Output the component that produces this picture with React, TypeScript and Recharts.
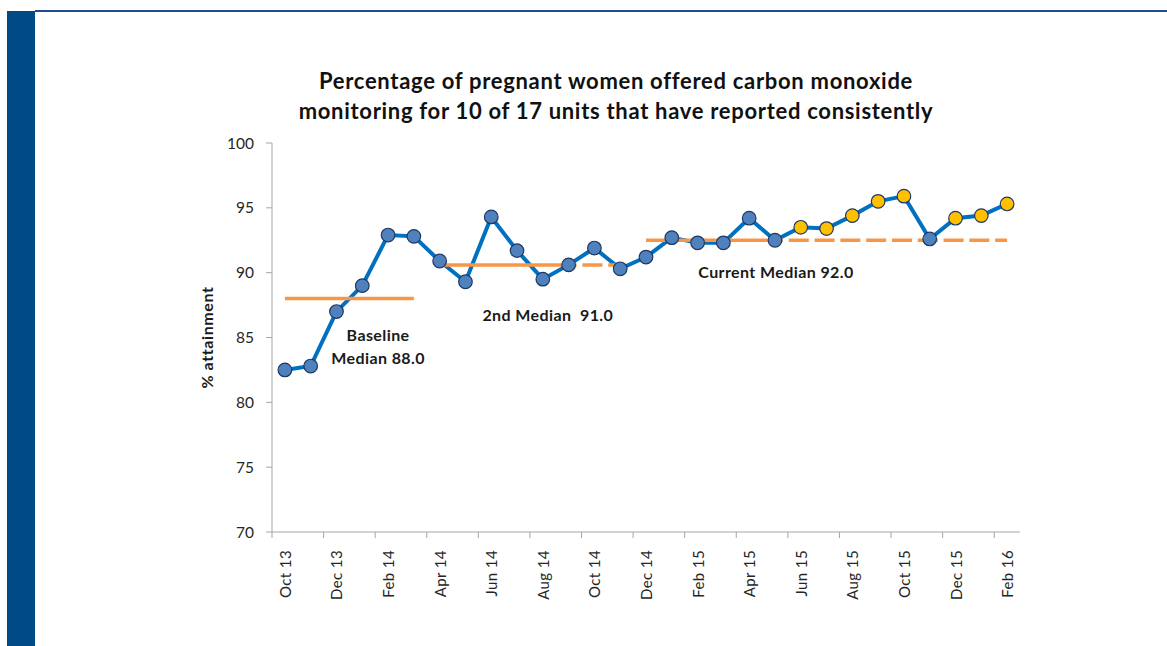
import { LineChart, Line, XAxis, YAxis, ReferenceDot } from "recharts";

const months = [
  "Oct 13", "Nov 13", "Dec 13", "Jan 14", "Feb 14", "Mar 14", "Apr 14", "May 14",
  "Jun 14", "Jul 14", "Aug 14", "Sep 14", "Oct 14", "Nov 14", "Dec 14", "Jan 15",
  "Feb 15", "Mar 15", "Apr 15", "May 15", "Jun 15", "Jul 15", "Aug 15", "Sep 15",
  "Oct 15", "Nov 15", "Dec 15", "Jan 16", "Feb 16",
];

const attainment = [
  82.5, 82.8, 87.0, 89.0, 92.9, 92.8, 90.9, 89.3,
  94.3, 91.7, 89.5, 90.6, 91.9, 90.3, 91.2, 92.7,
  92.3, 92.3, 94.2, 92.5, 93.5, 93.4, 94.4, 95.5,
  95.9, 92.6, 94.2, 94.4, 95.3,
];

// months flagged in yellow
const highlightedMonths = ["Jun 15", "Jul 15", "Aug 15", "Sep 15", "Oct 15", "Dec 15", "Jan 16", "Feb 16"];

const baselineMedian = 88.0;
const secondMedian = 90.6;
const currentMedian = 92.5;

const baselineSpan = ["Oct 13", "Mar 14"];
const secondSpan = ["Apr 14", "Sep 14"];
const secondExtSpan = ["Sep 14", "Nov 14"];
const currentSpan = ["Dec 14", "May 15"];
const currentExtSpan = ["May 15", "Feb 16"];

const yTicks = [70, 75, 80, 85, 90, 95, 100];

const inSpan = (i: number, span: string[]) =>
  i >= months.indexOf(span[0]) && i <= months.indexOf(span[1]);

const data = months.map((m, i) => ({
  month: m,
  value: attainment[i],
  highlight: highlightedMonths.includes(m),
  baseline: inSpan(i, baselineSpan) ? baselineMedian : null,
  second: inSpan(i, secondSpan) ? secondMedian : null,
  secondExt: inSpan(i, secondExtSpan) ? secondMedian : null,
  current: inSpan(i, currentSpan) ? currentMedian : null,
  currentExt: inSpan(i, currentExtSpan) ? currentMedian : null,
}));

const FONT = "Lato, 'Open Sans', sans-serif";
const AXIS = "#A6A6A6";
const TEXT = "#262626";
const ORANGE = "#F79646";

const W = 1167;
const H = 646;
const M = { top: 143, right: 147, bottom: 34, left: 212 };
const Y_W = 60;
const PLOT_W = W - M.left - M.right - Y_W;
const HALF = PLOT_W / months.length / 2;

const renderDot = (props: any) => {
  const { cx, cy, index, payload } = props;
  return (
    <circle
      key={`dot-${index}`}
      cx={cx}
      cy={cy}
      r={6.8}
      fill={payload.highlight ? "#FFC000" : "#4F81BD"}
      stroke="#1F3864"
      strokeWidth={1.2}
    />
  );
};

const MonthTick = (props: any) => {
  const { x, y, payload } = props;
  const tx = x;
  const ty = y + 18;
  return (
    <g>
      <line x1={x - HALF} x2={x - HALF} y1={y} y2={y + 6} stroke={AXIS} />
      <text
        x={tx}
        y={ty}
        transform={`rotate(-90 ${tx} ${ty})`}
        textAnchor="end"
        dominantBaseline="central"
        fontSize={15}
        letterSpacing={0.4}
        fontFamily={FONT}
        fill={TEXT}
      >
        {payload.value}
      </text>
    </g>
  );
};

const note = (lines: string[], dx = 0) => (props: any) => {
  const { x, y } = props.viewBox;
  return (
    <text
      x={x + dx}
      y={y}
      textAnchor="middle"
      dominantBaseline="central"
      fontSize={16}
      letterSpacing={0.4}
      fontWeight={700}
      fontFamily={FONT}
      fill="#1a1a1a"
    >
      {lines.map((l, i) => (
        <tspan key={i} x={x + dx} dy={i ? 22.7 : 0}>
          {l}
        </tspan>
      ))}
    </text>
  );
};

const yTitle = (props: any) => {
  const { x, y, height } = props.viewBox;
  const cx = x - 6;
  const cy = y + height / 2;
  return (
    <text
      x={cx}
      y={cy}
      transform={`rotate(-90 ${cx} ${cy})`}
      textAnchor="middle"
      dominantBaseline="central"
      fontSize={16}
      letterSpacing={0.6}
      fontWeight={700}
      fontFamily={FONT}
      fill="#1a1a1a"
    >
      % attainment
    </text>
  );
};

export default function App() {
  return (
    <div
      style={{
        position: "fixed",
        left: 0,
        top: 0,
        width: W,
        height: H,
        background: "#fff",
        overflow: "hidden",
        fontFamily: FONT,
      }}
    >
      <div style={{ position: "absolute", left: 7, top: 11, width: 28, height: H - 11, background: "#004A86" }} />
      <div style={{ position: "absolute", left: 35, top: 10, right: 0, height: 2, background: "#1F4E8C" }} />
      <div
        style={{
          position: "absolute",
          left: 266,
          width: 700,
          top: 66,
          textAlign: "center",
          fontWeight: 700,
          fontSize: 22,
          letterSpacing: 0.7,
          lineHeight: "30px",
          color: "#111",
          whiteSpace: "nowrap",
        }}
      >
        Percentage of pregnant women offered carbon monoxide
        <br />
        monitoring for 10 of 17 units that have reported consistently
      </div>
      <LineChart width={W} height={H} data={data} margin={M} style={{ position: "absolute", left: 0, top: 0 }}>
        <XAxis
          dataKey="month"
          interval={1}
          tickLine={false}
          tickSize={0}
          tickMargin={0}
          height={80}
          padding={{ left: HALF, right: HALF }}
          axisLine={{ stroke: AXIS }}
          tick={<MonthTick />}
        />
        <YAxis
          domain={[70, 100]}
          ticks={yTicks}
          width={Y_W}
          tickSize={6}
          tickMargin={12}
          axisLine={{ stroke: AXIS }}
          tickLine={{ stroke: AXIS }}
          tick={{ fontSize: 15.5, fill: TEXT, fontFamily: FONT }}
          label={{ content: yTitle }}
        />
        <Line
          dataKey="value"
          stroke="#0070C0"
          strokeWidth={4}
          dot={renderDot}
          activeDot={false}
          isAnimationActive={false}
        />
        <Line dataKey="baseline" stroke={ORANGE} strokeWidth={3.5} dot={false} activeDot={false} isAnimationActive={false} />
        <Line dataKey="second" stroke={ORANGE} strokeWidth={3.5} dot={false} activeDot={false} isAnimationActive={false} />
        <Line
          dataKey="secondExt"
          stroke={ORANGE}
          strokeWidth={3.5}
          strokeDasharray="20 5.8"
          strokeDashoffset={12}
          dot={false}
          activeDot={false}
          isAnimationActive={false}
        />
        <Line dataKey="current" stroke={ORANGE} strokeWidth={3.5} dot={false} activeDot={false} isAnimationActive={false} />
        <Line
          dataKey="currentExt"
          stroke={ORANGE}
          strokeWidth={3.5}
          strokeDasharray="20 5.8"
          strokeDashoffset={12}
          dot={false}
          activeDot={false}
          isAnimationActive={false}
        />
        <ReferenceDot x="Feb 14" y={85.25} r={0} fill="none" stroke="none" label={note(["Baseline", "Median 88.0"], -10)} />
        <ReferenceDot x="Aug 14" y={86.8} r={0} fill="none" stroke="none" label={note(["2nd Median\u00A0 91.0"], 5)} />
        <ReferenceDot x="May 15" y={90.15} r={0} fill="none" stroke="none" label={note(["Current Median 92.0"], 1)} />
      </LineChart>
    </div>
  );
}
